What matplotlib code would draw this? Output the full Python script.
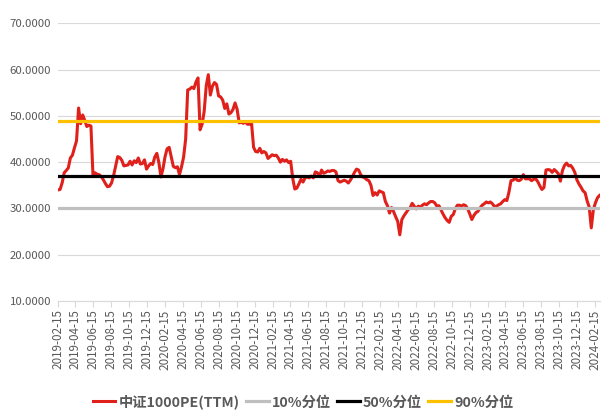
import pandas as pd
import matplotlib
matplotlib.use('Agg')
import matplotlib.pyplot as plt
import matplotlib.dates as mdates
from matplotlib.ticker import FormatStrFormatter

plt.rcParams['font.family'] = ['Noto Sans CJK SC', 'DejaVu Sans']

# weekly PE(TTM) readings of 中证1000, starting 2019-02-15
start_date = '2019-02-15'
pe = [
    34.0, 34.1, 35.5, 37.7, 38.2, 38.75, 40.9, 41.5, 43.1, 44.6,
    51.7, 48.3, 50.2, 49.0, 47.7, 48.0, 47.8, 37.0, 37.7, 37.4,
    37.3, 36.9, 36.2, 35.4, 34.7, 34.8, 35.5, 37.1, 39.2, 41.2,
    41.0, 40.4, 39.2, 39.3, 39.4, 40.2, 39.4, 40.3, 39.9, 40.9,
    39.6, 39.7, 40.5, 38.5, 39.2, 39.7, 39.5, 41.1, 41.9, 39.9,
    36.8, 38.6, 41.2, 42.9, 43.2, 41.1, 39.1, 38.8, 39.0, 37.3,
    39.0, 41.1, 45.0, 55.6, 55.8, 56.2, 55.9, 57.3, 58.2, 47.0,
    48.2, 51.0, 56.5, 58.9, 54.5, 56.4, 57.2, 56.8, 54.3, 54.1,
    53.4, 51.6, 52.6, 50.4, 50.7, 51.4, 52.8, 51.4, 48.5, 48.6,
    48.4, 48.7, 48.2, 48.2, 48.4, 43.2, 42.3, 42.2, 43.0, 42.0,
    42.3, 42.0, 40.8, 41.2, 41.6, 41.4, 41.5, 40.9, 40.0, 40.6,
    40.2, 40.5, 39.9, 40.2, 36.5, 34.2, 34.4, 35.3, 36.3, 35.7,
    36.6, 36.8, 36.6, 37.0, 36.6, 37.9, 37.7, 36.9, 38.3, 37.6,
    37.8, 38.1, 38.0, 38.2, 38.2, 37.9, 36.0, 35.7, 35.9, 36.1,
    35.9, 35.5, 36.1, 36.9, 37.8, 38.5, 38.3, 37.3, 36.8, 36.6,
    36.2, 36.0, 35.0, 32.8, 33.4, 32.9, 33.8, 33.6, 33.4, 31.5,
    30.6, 29.0, 30.2, 29.3, 28.2, 27.2, 24.3, 27.6, 28.4, 29.05,
    29.7, 30.1, 31.1, 30.5, 29.9, 30.5, 30.3, 30.7, 31.0, 30.8,
    31.2, 31.5, 31.5, 31.2, 30.5, 30.6, 29.7, 28.8, 28.0, 27.4,
    27.0, 28.3, 28.7, 30.0, 30.7, 30.7, 30.5, 30.8, 30.6, 29.9,
    28.8, 27.6, 28.5, 29.1, 29.4, 30.1, 30.7, 31.0, 31.4, 31.2,
    31.4, 31.0, 30.4, 30.5, 30.8, 31.0, 31.5, 31.9, 31.7, 33.5,
    36.0, 36.1, 36.6, 36.1, 36.0, 36.3, 37.3, 36.4, 36.4, 36.4,
    36.0, 36.3, 36.4, 35.8, 34.9, 34.1, 34.5, 38.3, 38.4, 38.3,
    37.8, 38.4, 38.0, 37.5, 35.9, 38.2, 39.3, 39.8, 39.2, 39.3,
    38.7, 37.8, 36.2, 35.3, 34.6, 33.8, 33.4, 31.6, 30.3, 25.8,
    29.7, 31.2, 32.3, 32.8,
]

p10 = 30.0
p50 = 37.0
p90 = 48.85

labels = ['中证1000PE(TTM)', '10%分位', '50%分位', '90%分位']
colors = ['#E0201B', '#BFBFBF', '#000000', '#FFC000']

dates = pd.date_range(start_date, periods=len(pe), freq='7D')
n = len(dates)

fig = plt.figure(figsize=(6.06, 4.12), dpi=100)
ax = fig.add_axes([0.0957, 0.2694, 0.8936, 0.674])

ax.plot(dates, pe, color=colors[0], lw=2.2, label=labels[0], zorder=3)
ax.plot(dates, [p10] * n, color=colors[1], lw=2.3, label=labels[1], zorder=4)
ax.plot(dates, [p50] * n, color=colors[2], lw=2.3, label=labels[2], zorder=4)
ax.plot(dates, [p90] * n, color=colors[3], lw=2.3, label=labels[3], zorder=4)

ax.set_ylim(10, 70)
ax.set_yticks([10, 20, 30, 40, 50, 60, 70])
ax.yaxis.set_major_formatter(FormatStrFormatter('%.4f'))
ax.set_xlim(dates[0], dates[-1])
ax.xaxis.set_major_locator(mdates.MonthLocator(bymonth=[2, 4, 6, 8, 10, 12], bymonthday=15))
ax.xaxis.set_major_formatter(mdates.DateFormatter('%Y-%m-%d'))

ax.grid(axis='y', color='#D9D9D9', lw=0.8)
ax.set_axisbelow(True)
for s in ['top', 'right', 'left']:
    ax.spines[s].set_visible(False)
ax.spines['bottom'].set_color('#D9D9D9')
ax.spines['bottom'].set_linewidth(0.8)

ax.tick_params(axis='y', length=0, pad=5, labelsize=8.2, labelcolor='#595959')
ax.tick_params(axis='x', length=4, width=0.8, color='#D9D9D9', pad=2,
               labelsize=8.4, labelcolor='#595959', labelrotation=90)

fig.legend(loc='lower center', bbox_to_anchor=(0.5, -0.025), ncol=4, frameon=False,
           handlelength=1.6, handletextpad=0.2, columnspacing=0.45,
           prop={'size': 10.3, 'weight': 'bold'}, labelcolor='#595959')

fig.savefig('out.png', dpi=100)
